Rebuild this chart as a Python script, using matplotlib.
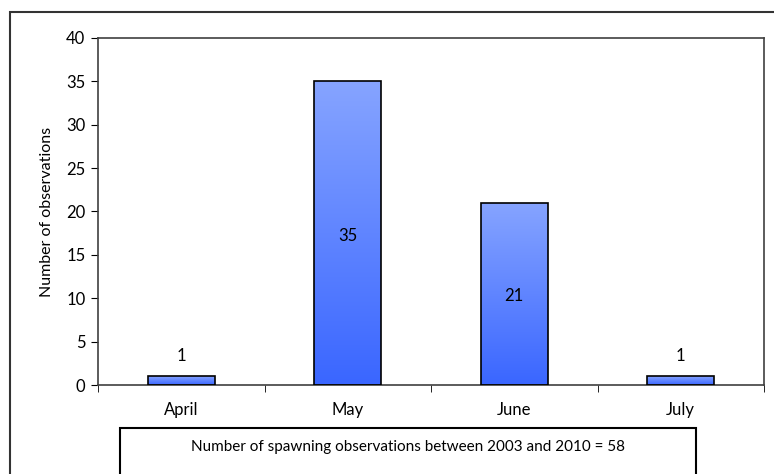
import numpy as np
import matplotlib.pyplot as plt
from matplotlib.patches import Rectangle
from matplotlib.colors import LinearSegmentedColormap

plt.rcParams['font.family'] = ['Lato', 'DejaVu Sans']

months = ['April', 'May', 'June', 'July']
counts = [1, 35, 21, 1]
label_y = [3.3, 17.2, 10.3, 3.3]  # where the value labels sit
note = 'Number of spawning observations between 2003 and 2010 = 58'

fig = plt.figure(figsize=(7.74, 4.74), dpi=100)
ax = fig.add_axes([98 / 774, 89 / 474, 666 / 774, 347 / 474])

x = np.arange(len(months))
bars = ax.bar(x, counts, width=0.4, facecolor='none', edgecolor='black', linewidth=1.2, zorder=3)

# vertical gradient: light at top, darker at bottom
cmap = LinearSegmentedColormap.from_list('blues', ['#3a66ff', '#86a4ff'])
grad = np.linspace(0, 1, 256).reshape(-1, 1)
for b in bars:
    x0, y0 = b.get_x(), b.get_y()
    w, h = b.get_width(), b.get_height()
    im = ax.imshow(grad, cmap=cmap, origin='lower', aspect='auto',
                   extent=[x0, x0 + w, y0, y0 + h], zorder=2)
    im.set_clip_path(b)

for xi, c, ly in zip(x, counts, label_y):
    ax.text(xi, ly, str(c), ha='center', va='center', fontsize=12, zorder=4)

ax.set_xlim(-0.5, 3.5)
ax.set_ylim(0, 40)
ax.set_yticks(np.arange(0, 41, 5))
ax.set_xticks(x)
ax.set_xticklabels(months)
ax.set_xticks(np.arange(-0.5, 4, 1), minor=True)
ax.tick_params(axis='x', which='major', length=0, pad=12, labelsize=12)
ax.tick_params(axis='x', which='minor', length=5, direction='out')
ax.tick_params(axis='y', length=5, direction='out', labelsize=12, pad=4)
ax.set_ylabel('Number of observations', fontsize=11.5, labelpad=9)
for s in ax.spines.values():
    s.set_color('#404040')
    s.set_linewidth(1.2)

# outer chart border (clipped at right and bottom)
fig.patches.append(Rectangle((10 / 774, -0.05), 1.1, (462 / 474) + 0.05,
                             transform=fig.transFigure, fill=False,
                             edgecolor='#333333', linewidth=1.5))
# note box
fig.patches.append(Rectangle((120 / 774, -0.05), 576 / 774, (46 / 474) + 0.05,
                             transform=fig.transFigure, fill=False,
                             edgecolor='black', linewidth=1.5))
fig.text(408 / 774, 27 / 474, note, ha='center', va='center', fontsize=11)

fig.savefig('out.png', dpi=100)
